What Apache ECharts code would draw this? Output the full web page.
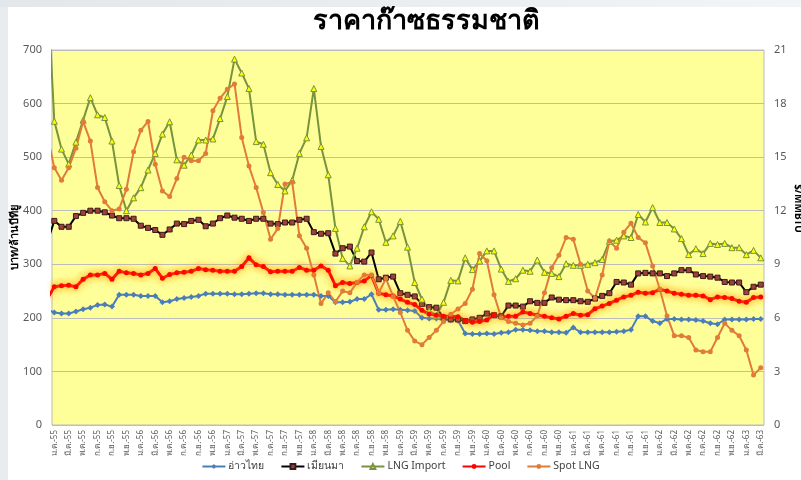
<!DOCTYPE html>
<html>
<head>
<meta charset="utf-8">
<script src="https://cdn.jsdelivr.net/npm/echarts@6/dist/echarts.min.js"></script>
<style>
  html, body { margin: 0; padding: 0; background: #fff; }
  #main { width: 801px; height: 480px; }
</style>
</head>
<body>
<div id="main"></div>
<script>
// ชื่อเดือน / ปี สำหรับแกน x
const monthNames = ['ม.ค.', 'ก.พ.', 'มี.ค.', 'เม.ย.', 'พ.ค.', 'มิ.ย.', 'ก.ค.', 'ส.ค.', 'ก.ย.', 'ต.ค.', 'พ.ย.', 'ธ.ค.'];
const years = ['55', '56', '57', '58', '59', '60', '61', '62', '63'];
const monthCount = 99; // ม.ค.-55 .. มี.ค.-63

// ค่าแรกของแต่ละชุดคือ ธ.ค.-54 (อยู่นอกกรอบ ถูกตัดที่ขอบซ้าย)
const gulfThai = [216,
  210, 208, 208, 212, 216, 219, 224, 225, 221, 243,
  243, 243, 241, 241, 241, 229, 231, 235, 237, 239,
  241, 245, 245, 245, 245, 244, 244, 245, 246, 246,
  244, 244, 243, 243, 243, 243, 243, 241, 241, 229,
  229, 230, 235, 235, 244, 215, 215, 216, 215, 214,
  213, 200, 199, 199, 196, 196, 195, 171, 170, 170,
  171, 170, 172, 173, 178, 178, 177, 175, 175, 173,
  173, 172, 182, 173, 173, 173, 173, 173, 174, 175,
  178, 203, 203, 194, 190, 198, 198, 197, 197, 196,
  194, 190, 188, 197, 197, 197, 197, 198, 198];
const myanmar = [340,
  381, 370, 370, 390, 396, 400, 400, 397, 391, 386,
  386, 385, 372, 368, 364, 355, 365, 376, 375, 381,
  383, 371, 376, 386, 391, 387, 385, 381, 385, 385,
  376, 375, 378, 378, 383, 385, 360, 357, 358, 320,
  330, 333, 306, 305, 322, 272, 275, 277, 246, 243,
  240, 226, 220, 219, 200, 197, 197, 194, 197, 200,
  208, 205, 203, 223, 223, 221, 231, 228, 228, 238,
  234, 233, 233, 231, 230, 236, 241, 246, 267, 266,
  262, 283, 284, 283, 283, 278, 283, 289, 289, 281,
  278, 277, 275, 267, 266, 266, 248, 258, 262];
const lngImport = [830,
  567, 515, 487, 528, 569, 611, 579, 574, 530, 447,
  400, 424, 443, 476, 507, 543, 566, 495, 485, 504,
  532, 532, 534, 572, 613, 683, 657, 628, 529, 524,
  471, 449, 437, 457, 507, 536, 628, 520, 467, 367,
  311, 297, 330, 370, 398, 384, 341, 353, 380, 332,
  266, 235, 213, 205, 229, 270, 269, 312, 290, 306,
  325, 325, 291, 268, 273, 289, 287, 308, 285, 283,
  277, 301, 298, 298, 300, 303, 309, 343, 345, 353,
  350, 393, 379, 406, 378, 378, 366, 348, 318, 329,
  320, 339, 337, 339, 331, 331, 318, 326, 312];
const pool = [235,
  258, 260, 261, 258, 272, 280, 280, 283, 272, 287,
  284, 283, 280, 283, 292, 274, 281, 284, 285, 287,
  292, 290, 289, 287, 287, 287, 296, 312, 299, 296,
  286, 287, 287, 287, 294, 289, 289, 297, 289, 260,
  266, 264, 266, 269, 279, 246, 243, 241, 235, 229,
  225, 214, 207, 205, 203, 203, 202, 195, 192, 193,
  196, 206, 201, 203, 203, 211, 208, 205, 203, 200,
  198, 203, 208, 205, 206, 217, 222, 227, 233, 239,
  242, 248, 246, 247, 253, 250, 246, 244, 242, 242,
  241, 234, 239, 238, 236, 231, 229, 238, 239];
// Spot LNG ใช้แกนขวา ($/MMBTU)
const spotLng = [16.3,
  14.4, 13.7, 14.4, 15.5, 17.0, 15.9, 13.3, 12.5, 12.0, 12.1,
  13.2, 15.3, 16.5, 17.0, 14.6, 13.1, 12.8, 13.8, 15.0, 14.8,
  14.8, 15.2, 17.6, 18.3, 18.8, 19.1, 16.1, 14.5, 13.3, 11.9,
  10.4, 11.0, 13.5, 13.6, 10.6, 9.9, 8.4, 6.8, 7.4, 6.9,
  7.5, 7.4, 8.0, 8.4, 8.4, 7.4, 8.2, 7.2, 6.3, 5.3,
  4.7, 4.5, 4.9, 5.3, 5.8, 6.2, 6.5, 6.8, 7.6, 9.6,
  9.2, 7.3, 6.0, 5.8, 5.7, 5.6, 5.7, 6.1, 7.4, 8.8,
  9.5, 10.5, 10.4, 9.0, 7.5, 7.1, 8.4, 10.3, 9.9, 10.8,
  11.3, 10.5, 10.2, 8.9, 7.6, 6.1, 5.0, 5.0, 4.9, 4.2,
  4.1, 4.1, 4.9, 5.7, 5.3, 5.0, 4.2, 2.8, 3.2];

const font = '"Noto Sans", "DejaVu Sans", sans-serif';

// ป้ายเดือน ม.ค.-55 ...
const months = [];
years.forEach(y => {
  monthNames.forEach(m => {
    if (months.length < monthCount) months.push(m + '-' + y);
  });
});
const labelValues = months.map((m, i) => i).filter(i => i % 2 === 0);

// [index, value] โดย index เริ่มที่ -1
function toPoints(arr) {
  return arr.map((v, i) => [i - 1, v]);
}

const chart = echarts.init(document.getElementById('main'));

const option = {
  animation: false,
  backgroundColor: '#ffffff',
  textStyle: { fontFamily: font },
  graphic: [
    { type: 'rect', shape: { x: 0, y: 0, width: 8, height: 480 }, style: { fill: '#e9ecee' }, silent: true },
    {
      type: 'rect', shape: { x: 0, y: 0, width: 801, height: 7 }, silent: true,
      style: {
        fill: new echarts.graphic.LinearGradient(0, 0, 1, 0, [
          { offset: 0, color: '#e3e7e9' },
          { offset: 1, color: '#f2f4f5' },
        ]),
      },
    },
  ],
  title: {
    text: 'ราคาก๊าซธรรมชาติ',
    left: 421,
    top: 3,
    textAlign: 'center',
    textStyle: { fontFamily: font, fontSize: 27, fontWeight: 'bold', color: '#000' },
  },
  legend: {
    bottom: 3,
    left: 'center',
    itemWidth: 23,
    itemHeight: 6,
    itemGap: 16,
    textStyle: { fontFamily: font, fontSize: 10.5, color: '#404040', padding: [0, 0, 0, -2] },
    data: ['อ่าวไทย', 'เมียนมา', 'LNG Import', 'Pool', 'Spot LNG'],
  },
  grid: {
    left: 52,
    right: 37,
    top: 50,
    bottom: 55,
    containLabel: false,
    outerBoundsMode: 'none',
    show: true,
    backgroundColor: '#ffff99',
    borderColor: '#bcbcbc',
    borderWidth: 1,
  },
  xAxis: {
    type: 'value',
    min: -0.32,
    max: 98.45,
    axisLine: { show: false },
    axisTick: { show: false },
    splitLine: { show: false },
    axisLabel: {
      customValues: labelValues,
      rotate: 90,
      fontSize: 8,
      color: '#595959',
      margin: 5,
      formatter: v => months[v] || '',
    },
  },
  yAxis: [
    {
      type: 'value',
      min: 0,
      max: 700,
      interval: 100,
      name: 'บาท/ล้านบีทียู',
      nameLocation: 'middle',
      nameGap: 32,
      nameRotate: 90,
      nameMoveOverlap: false,
      nameTextStyle: { fontFamily: font, fontSize: 11, fontWeight: 'bold', color: '#000' },
      axisLine: { show: false },
      axisTick: { show: false },
      axisLabel: { fontSize: 11, color: '#595959', margin: 10 },
      splitLine: { lineStyle: { color: '#bdbdbd', width: 1 } },
    },
    {
      type: 'value',
      min: 0,
      max: 21,
      interval: 3,
      position: 'right',
      name: '$/MMBTU',
      nameLocation: 'middle',
      nameGap: 29,
      nameRotate: -90,
      nameMoveOverlap: false,
      nameTextStyle: { fontFamily: font, fontSize: 10, fontWeight: 'bold', color: '#000', padding: [0, 58, 0, 0] },
      axisLine: { show: false },
      axisTick: { show: false },
      axisLabel: { fontSize: 11, color: '#595959', margin: 10 },
      splitLine: { show: false },
    },
  ],
  series: [
    {
      name: 'อ่าวไทย',
      type: 'line',
      data: toPoints(gulfThai),
      symbol: 'diamond',
      symbolSize: 6,
      showAllSymbol: true,
      lineStyle: { color: '#4a7ebb', width: 2 },
      itemStyle: { color: '#4a7ebb' },
    },
    {
      name: 'เมียนมา',
      type: 'line',
      data: toPoints(myanmar),
      symbol: 'rect',
      symbolSize: 5,
      showAllSymbol: true,
      lineStyle: { color: '#000000', width: 2 },
      itemStyle: { color: '#a0403c', borderColor: '#3a1a1a', borderWidth: 1 },
    },
    {
      name: 'LNG Import',
      type: 'line',
      data: toPoints(lngImport),
      symbol: 'triangle',
      symbolSize: 6,
      showAllSymbol: true,
      lineStyle: { color: '#77933c', width: 2 },
      itemStyle: { color: '#ffff00', borderColor: '#77933c', borderWidth: 1 },
    },
    {
      name: 'Pool',
      type: 'line',
      data: toPoints(pool),
      symbol: 'circle',
      symbolSize: 5,
      showAllSymbol: true,
      lineStyle: {
        color: '#ff0000', width: 3,
        shadowColor: 'rgba(255, 150, 0, 0.9)', shadowBlur: 8,
      },
      itemStyle: { color: '#ff0000', shadowColor: 'rgba(255, 170, 0, 0.9)', shadowBlur: 6 },
    },
    {
      name: 'Spot LNG',
      type: 'line',
      yAxisIndex: 1,
      data: toPoints(spotLng),
      symbol: 'circle',
      symbolSize: 5,
      showAllSymbol: true,
      lineStyle: { color: '#e07b39', width: 2 },
      itemStyle: { color: '#e07b39' },
    },
  ],
};

chart.setOption(option);
</script>
</body>
</html>
